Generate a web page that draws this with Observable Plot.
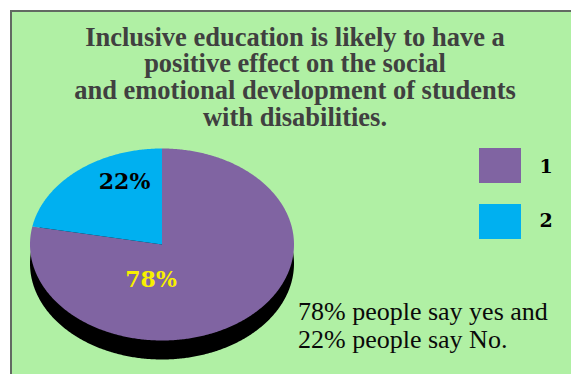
<!DOCTYPE html>
<html>
<head>
<meta charset="utf-8">
<script src="https://cdn.jsdelivr.net/npm/d3@7"></script>
<script src="https://cdn.jsdelivr.net/npm/@observablehq/plot@0.6"></script>
<style>
  html, body { margin: 0; padding: 0; background: #ffffff; overflow: hidden; width: 571px; height: 374px; }
  #box { position: absolute; left: 10px; top: 10px; width: 620px; height: 420px; background: #b0f0a4;
         border-left: 2px solid #626a62; border-top: 2px solid #626a62; }
  #title { position: absolute; left: 12px; top: 23.7px; width: 566px; text-align: center;
           font-family: "Liberation Serif", "Times New Roman", serif; font-weight: bold; font-size: 26.5px;
           line-height: 26.7px; color: #404040; }
  #chart { position: absolute; left: 0; top: 130px; }
  .sw { position: absolute; left: 479px; width: 42px; height: 35px; }
  .lab { position: absolute; left: 536px; width: 20px; text-align: center; font-family: "DejaVu Serif", serif;
         font-weight: bold; font-size: 19px; line-height: 19px; color: #000; }
  #note { position: absolute; left: 298px; top: 298.2px; font-family: "Liberation Serif", "Times New Roman", serif;
          font-size: 26px; line-height: 27.5px; color: #0a0a0a; white-space: nowrap; }
</style>
</head>
<body>
<div id="box"></div>
<div id="title"></div>
<div id="chart"></div>
<div id="legend"></div>
<div id="note"></div>
<script>
const categories = ["1", "2"];
const values = [78, 22];
const sliceLabels = ["78%", "22%"];
const colors = ["#8064a2", "#00b0f0"];
const labelColors = ["#f8f000", "#000000"];
const titleLines = [
  "Inclusive education is likely to have a",
  "positive effect on the social",
  "and emotional development of students",
  "with disabilities."
];
const noteLines = ["78% people say yes and", "22% people say No."];

document.getElementById("title").innerHTML = titleLines.join("<br>");
document.getElementById("note").innerHTML = noteLines.join("<br>");

// legend
const legend = document.getElementById("legend");
const swTops = [148, 204];
const labTops = [157.2, 211.2];
categories.forEach((c, i) => {
  const sw = document.createElement("div");
  sw.className = "sw";
  sw.style.top = swTops[i] + "px";
  sw.style.background = colors[i];
  legend.appendChild(sw);
  const lb = document.createElement("div");
  lb.className = "lab";
  lb.style.top = labTops[i] + "px";
  lb.textContent = c;
  legend.appendChild(lb);
});

// pie geometry from data
const arcs = d3.pie().sort(null).value(d => d)(values);
const pts = [];
arcs.forEach((a, i) => {
  const slice = categories[i];
  pts.push({slice, x: 0, y: 0});
  const n = Math.ceil((a.endAngle - a.startAngle) / 0.01);
  for (let k = 0; k <= n; k++) {
    const t = a.startAngle + (a.endAngle - a.startAngle) * k / n;
    pts.push({slice, x: Math.sin(t), y: Math.cos(t)});
  }
  pts.push({slice, x: 0, y: 0});
});
const labelData = arcs.map((a, i) => {
  const m = (a.startAngle + a.endAngle) / 2;
  return {slice: categories[i], label: sliceLabels[i], color: labelColors[i], x: 0.5 * Math.sin(m), y: 0.5 * Math.cos(m)};
});

const plot = Plot.plot({
  width: 571,
  height: 244,
  margin: 0,
  style: {background: "transparent", overflow: "visible"},
  x: {domain: [-1, 1], range: [29.5, 293.5], axis: null},
  y: {domain: [-1, 1], range: [210, 18], axis: null},
  color: {domain: categories, range: colors},
  marks: [
    Plot.line(pts, {x: "x", y: "y", z: "slice", fill: "#000000", stroke: "none", dy: 19}),
    Plot.line(pts, {x: "x", y: "y", z: "slice", fill: "slice", stroke: "none"}),
    Plot.text(labelData.filter(d => d.slice === "1"), {x: "x", y: "y", text: "label", fill: d => d.color,
      fontFamily: "DejaVu Serif", fontWeight: "bold", fontSize: 22, dx: -53, dy: -2}),
    Plot.text(labelData.filter(d => d.slice === "2"), {x: "x", y: "y", text: "label", fill: d => d.color,
      fontFamily: "DejaVu Serif", fontWeight: "bold", fontSize: 22, dx: 4.6, dy: -26})
  ]
});
document.getElementById("chart").appendChild(plot);
</script>
</body>
</html>
